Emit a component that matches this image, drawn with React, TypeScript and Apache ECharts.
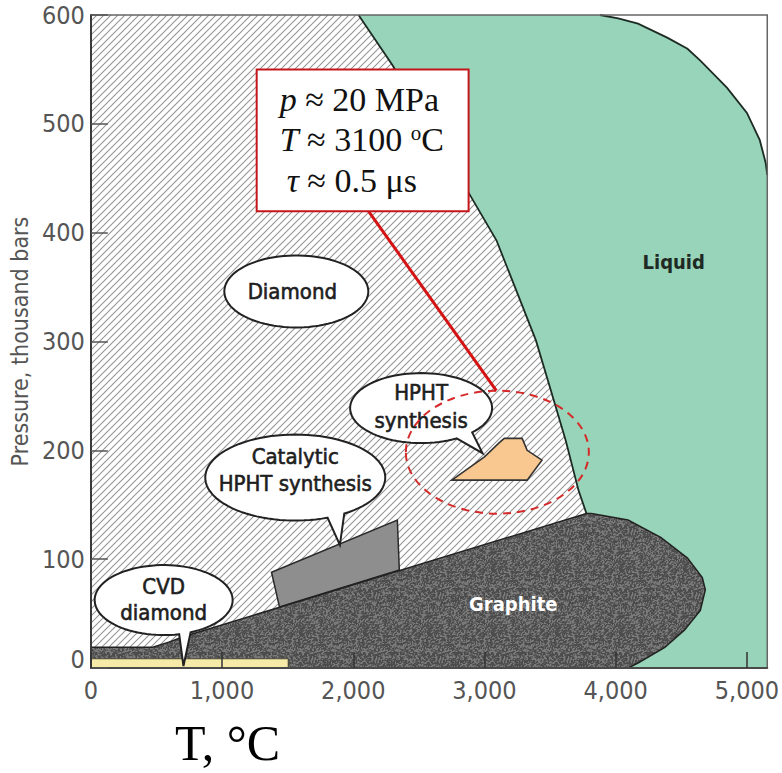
import React, { useEffect, useRef } from 'react';
import * as echarts from 'echarts';

// ---- axes ----
const T_MAX = 5155;
const P_MAX = 600;
const T_STEP = 1000;
const P_STEP = 100;

// ---- phase boundaries (T in °C, P in thousand bars) ----
// diamond / liquid melting line, top to bottom
const meltT = [2040, 2298, 2902, 3091, 3242, 3392, 3506, 3619, 3717, 3777];
const meltP = [600, 554, 432, 393, 347, 301, 255, 209, 163, 142];

// upper edge of the liquid field
const liquidTopT = [3880, 4019, 4170, 4396, 4547, 4645, 4849, 5000, 5098, 5143, 5155];
const liquidTopP = [600, 597, 592, 579, 569, 558, 533, 510, 485, 464, 453];

// graphite stability field outline
const graphiteT = [0, 0, 472, 600, 698, 3777, 3815, 4094, 4343, 4547, 4660, 4683, 4645, 4525, 4374, 4170, 4094];
const graphiteP = [0, 19, 19, 24, 28.5, 142, 142, 136, 120, 101, 83, 72, 53, 35, 19, 4.6, 0];

// synthesis windows
const cvdT = [0, 0, 1505, 1505];
const cvdP = [0, 8.5, 8.5, 0];
const catalyticT = [1377, 1438, 2351, 2336];
const catalyticP = [88, 56, 90, 136];
const hphtT = [2751, 3000, 3113, 3151, 3287, 3325, 3438, 3325];
const hphtP = [172.6, 194, 207, 211, 211, 200, 191, 172.6];

// callout bubbles
const bubbleLines = [['Diamond'], ['Catalytic', 'HPHT synthesis'], ['HPHT', 'synthesis'], ['CVD', 'diamond']];
const bubbleT = [1566, 1558, 2517, 555];
const bubbleP = [346, 175, 238.8, 62.4];
const bubbleTipT = [NaN, 1898, 2985, 706];
const bubbleTipP = [NaN, 113, 197.4, 1.8];

// region names
const regionNames = ['Liquid', 'Graphite'];
const regionT = [4442, 3219];
const regionP = [373, 58.8];

// experimental point note
const noteLines = ['{i|p} ≈ 20 MPa', '{i|T} ≈ 3100 {s|o}C', '{i|τ} ≈ 0.5 μs'];
const noteBoxT = [1264, 2879];
const noteBoxP = [550, 419.6];
const notePointerT = 2117;
const zoneT = 3098;
const zoneP = 198.3;

const SANS = '"DejaVu Sans Condensed", "Liberation Sans", sans-serif';
const SERIF = '"Liberation Serif", "DejaVu Serif", serif';

// bubble geometry in pixels: rx, ry, tail start/end angle, text line offsets
const bubbleGeom = [
  { rx: 72, ry: 36, a0: 0, a1: 0, dx: -4, lines: [0] },
  { rx: 90, ry: 43, a0: 57, a1: 69, dx: 0, lines: [-21, 6] },
  { rx: 71, ry: 35, a0: 44, a1: 60, dx: 0, lines: [-16, 12] },
  { rx: 69, ry: 35, a0: 67, a1: 77, dx: 0, lines: [-14, 12] },
];

const zip = (ts: number[], ps: number[]) => ts.map((t, i) => [t, ps[i]]);

function makeHatch() {
  const n = 7;
  const c = document.createElement('canvas');
  c.width = n;
  c.height = n;
  const g = c.getContext('2d')!;
  g.fillStyle = '#ffffff';
  g.fillRect(0, 0, n, n);
  g.strokeStyle = '#939393';
  g.lineWidth = 1.05;
  g.beginPath();
  g.moveTo(-1, n + 1);
  g.lineTo(n + 1, -1);
  g.moveTo(-1, 1);
  g.lineTo(1, -1);
  g.moveTo(n - 1, n + 1);
  g.lineTo(n + 1, n - 1);
  g.stroke();
  return { image: c, repeat: 'repeat', imageWidth: n, imageHeight: n };
}

// fine mottled texture for the graphite field
function makeStipple() {
  const n = 64;
  const c = document.createElement('canvas');
  c.width = n;
  c.height = n;
  const g = c.getContext('2d')!;
  const img = g.createImageData(n, n);
  const hash = (x: number, y: number) => {
    const h = Math.sin(((x + n) % n) * 12.9898 + ((y + n) % n) * 78.233) * 43758.5453;
    return h - Math.floor(h);
  };
  for (let y = 0; y < n; y++) {
    for (let x = 0; x < n; x++) {
      const f = (hash(x, y) * 2 + hash(x + 1, y) + hash(x, y + 1)) / 4;
      const v = f > 0.62 ? 122 : f > 0.45 ? 96 : 76;
      const k = (y * n + x) * 4;
      img.data[k] = v;
      img.data[k + 1] = v;
      img.data[k + 2] = v;
      img.data[k + 3] = 255;
    }
  }
  g.putImageData(img, 0, 0);
  return { image: c, repeat: 'repeat', imageWidth: n, imageHeight: n };
}

function ellipsePoints(cx: number, cy: number, rx: number, ry: number, from: number, to: number) {
  const out: number[][] = [];
  const steps = 90;
  for (let i = 0; i <= steps; i++) {
    const a = ((from + ((to - from) * i) / steps) * Math.PI) / 180;
    out.push([cx + rx * Math.cos(a), cy + ry * Math.sin(a)]);
  }
  return out;
}

function buildOption() {
  const hatch = makeHatch();
  const stipple = makeStipple();
  const series: any[] = [];
  type C = (t: number, p: number) => number[];
  const layer = (draw: (c: C) => any[]) => {
    series.push({
      type: 'custom',
      data: [[0, 0]],
      silent: true,
      clip: false,
      z: 2 + series.length,
      renderItem: (_p: any, api: any) => ({
        type: 'group',
        children: draw((t, p) => api.coord([t, p])),
      }),
    });
  };
  const melt = zip(meltT, meltP);
  const meltEnd = meltT[meltT.length - 1];
  const liquidTop = zip(liquidTopT, liquidTopP);
  const graphite = zip(graphiteT, graphiteP);

  // diamond field (hatched background)
  layer((c) => [
    {
      type: 'polygon',
      shape: { points: [c(0, 0), c(0, P_MAX), ...melt.map(([t, p]) => c(t, p)), c(meltEnd, 0)] },
      style: { fill: hatch },
    },
  ]);
  // liquid field
  layer((c) => [
    {
      type: 'polygon',
      shape: {
        points: [
          ...[...melt].reverse().map(([t, p]) => c(t, p)),
          ...liquidTop.map(([t, p]) => c(t, p)),
          c(T_MAX, 0),
          c(meltEnd, 0),
        ],
      },
      style: { fill: '#97d4b9' },
    },
  ]);
  // graphite field
  layer((c) => [
    {
      type: 'polygon',
      shape: { points: graphite.map(([t, p]) => c(t, p)) },
      style: { fill: stipple },
    },
  ]);
  // synthesis windows
  layer((c) => [
    {
      type: 'polygon',
      shape: { points: zip(cvdT, cvdP).map(([t, p]) => c(t, p)) },
      style: { fill: '#f6eaa8', stroke: '#4a4a3a', lineWidth: 1.2 },
    },
    {
      type: 'polygon',
      shape: { points: zip(catalyticT, catalyticP).map(([t, p]) => c(t, p)) },
      style: { fill: '#8e8e8e', stroke: '#2a2a2a', lineWidth: 1.5 },
    },
    {
      type: 'polygon',
      shape: { points: zip(hphtT, hphtP).map(([t, p]) => c(t, p)) },
      style: { fill: '#f9c890', stroke: '#333', lineWidth: 1.6 },
    },
  ]);
  // boundary lines and frame
  layer((c) => [
    { type: 'polyline', shape: { points: melt.map(([t, p]) => c(t, p)) }, style: { fill: 'none', stroke: '#1d2b24', lineWidth: 1.8 } },
    { type: 'polyline', shape: { points: liquidTop.map(([t, p]) => c(t, p)) }, style: { fill: 'none', stroke: '#1d2b24', lineWidth: 1.8 } },
    { type: 'polyline', shape: { points: graphite.slice(1).map(([t, p]) => c(t, p)) }, style: { fill: 'none', stroke: '#222', lineWidth: 1.5 } },
    { type: 'polyline', shape: { points: [c(0, P_MAX), c(T_MAX, P_MAX), c(T_MAX, 0)] }, style: { fill: 'none', stroke: '#666', lineWidth: 1.5 } },
  ]);
  // callout bubbles
  layer((c) => {
    const out: any[] = [];
    bubbleLines.forEach((lines, i) => {
      const g = bubbleGeom[i];
      const [cx, cy] = c(bubbleT[i], bubbleP[i]);
      let pts: number[][];
      if (isNaN(bubbleTipT[i])) {
        pts = ellipsePoints(cx, cy, g.rx, g.ry, 0, 360);
      } else {
        pts = [...ellipsePoints(cx, cy, g.rx, g.ry, g.a1, g.a0 + 360), c(bubbleTipT[i], bubbleTipP[i])];
      }
      out.push({ type: 'polygon', shape: { points: pts }, style: { fill: '#ffffff', stroke: '#222', lineWidth: 2 } });
      lines.forEach((txt, j) => {
        out.push({
          type: 'text',
          x: cx + g.dx,
          y: cy + g.lines[j],
          style: {
            text: txt,
            fill: '#1e1e1e',
            stroke: '#1e1e1e',
            lineWidth: 0.6,
            fontSize: 22,
            fontFamily: SANS,
            align: 'center',
            verticalAlign: 'middle',
          },
        });
      });
    });
    return out;
  });
  // region names
  layer((c) =>
    regionNames.map((name, i) => {
      const [x, y] = c(regionT[i], regionP[i]);
      return {
        type: 'text',
        x,
        y,
        style: {
          text: name,
          fill: i === 0 ? '#1f2a24' : '#ffffff',
          fontSize: 20,
          fontWeight: 'bold',
          fontFamily: SANS,
          align: 'center',
          verticalAlign: 'middle',
        },
      };
    })
  );
  // note box with the experimental conditions
  layer((c) => {
    const [zx, zy] = c(zoneT, zoneP);
    const rx = 91.5;
    const ry = 61.5;
    const [bx0, by0] = c(noteBoxT[0], noteBoxP[0]);
    const [bx1, by1] = c(noteBoxT[1], noteBoxP[1]);
    const [px] = c(notePointerT, noteBoxP[1]);
    const lineX = [23, 23, 30];
    const lineY = [30, 70, 111];
    return [
      { type: 'ellipse', shape: { cx: zx, cy: zy, rx, ry }, style: { fill: 'none', stroke: '#d62a2a', lineWidth: 2, lineDash: [8, 6] } },
      { type: 'line', shape: { x1: px, y1: by1, x2: zx - 1, y2: zy - ry }, style: { stroke: '#d41414', lineWidth: 3 } },
      { type: 'rect', shape: { x: bx0, y: by0, width: bx1 - bx0, height: by1 - by0 }, style: { fill: '#ffffff', stroke: '#c4161c', lineWidth: 2 } },
      ...noteLines.map((txt, i) => ({
        type: 'text',
        x: bx0 + lineX[i],
        y: by0 + lineY[i],
        style: {
          text: txt,
          fill: '#111',
          fontSize: 34,
          fontFamily: SERIF,
          align: 'left',
          verticalAlign: 'middle',
          rich: {
            i: { fontSize: 34, fontFamily: SERIF, fontStyle: 'italic', fill: '#111' },
            s: { fontSize: 21, fontFamily: SERIF, fill: '#111', verticalAlign: 'top' },
          },
        },
      })),
    ];
  });

  return {
    animation: false,
    backgroundColor: '#ffffff',
    grid: { left: 87, right: 12, top: 15, bottom: 105 },
    xAxis: {
      type: 'value',
      min: 0,
      max: T_MAX,
      interval: T_STEP,
      z: 50,
      splitLine: { show: false },
      axisLine: { show: true, onZero: false, lineStyle: { color: '#4a4a4a', width: 2 } },
      axisTick: { show: true, inside: true, length: 16, lineStyle: { color: '#333', width: 1.5 } },
      axisLabel: {
        margin: 10,
        fontSize: 25,
        fontFamily: SANS,
        color: '#555',
        showMaxLabel: false,
        formatter: (v: number) => v.toLocaleString('en-US'),
      },
    },
    yAxis: {
      type: 'value',
      min: 0,
      max: P_MAX,
      interval: P_STEP,
      z: 50,
      name: 'Pressure, thousand bars',
      nameLocation: 'middle',
      nameGap: 53,
      nameTextStyle: { fontSize: 23, fontFamily: SANS, color: '#555' },
      splitLine: { show: false },
      axisLine: { show: true, onZero: false, lineStyle: { color: '#3a3a3a', width: 2 } },
      axisTick: { show: true, inside: true, length: 17, lineStyle: { color: '#555', width: 1.5 } },
      axisLabel: {
        margin: 6,
        fontSize: 25,
        fontFamily: SANS,
        color: '#555',
        formatter: (v: number) => (v === 0 ? '{z|0}' : String(v)),
        rich: { z: { fontSize: 25, fontFamily: SANS, color: '#555', padding: [0, 0, 18, 0] } },
      },
    },
    graphic: [
      {
        type: 'text',
        left: 175,
        top: 718,
        style: { text: 'T, °C', fill: '#000', fontSize: 50, fontFamily: SERIF },
      },
    ],
    series,
  };
}

export default function App() {
  const ref = useRef<HTMLDivElement>(null);
  useEffect(() => {
    document.body.style.margin = '0';
    const chart = echarts.init(ref.current!, null, { renderer: 'svg' });
    chart.setOption(buildOption() as any);
    return () => chart.dispose();
  }, []);
  return <div ref={ref} style={{ width: 782, height: 773 }} />;
}
